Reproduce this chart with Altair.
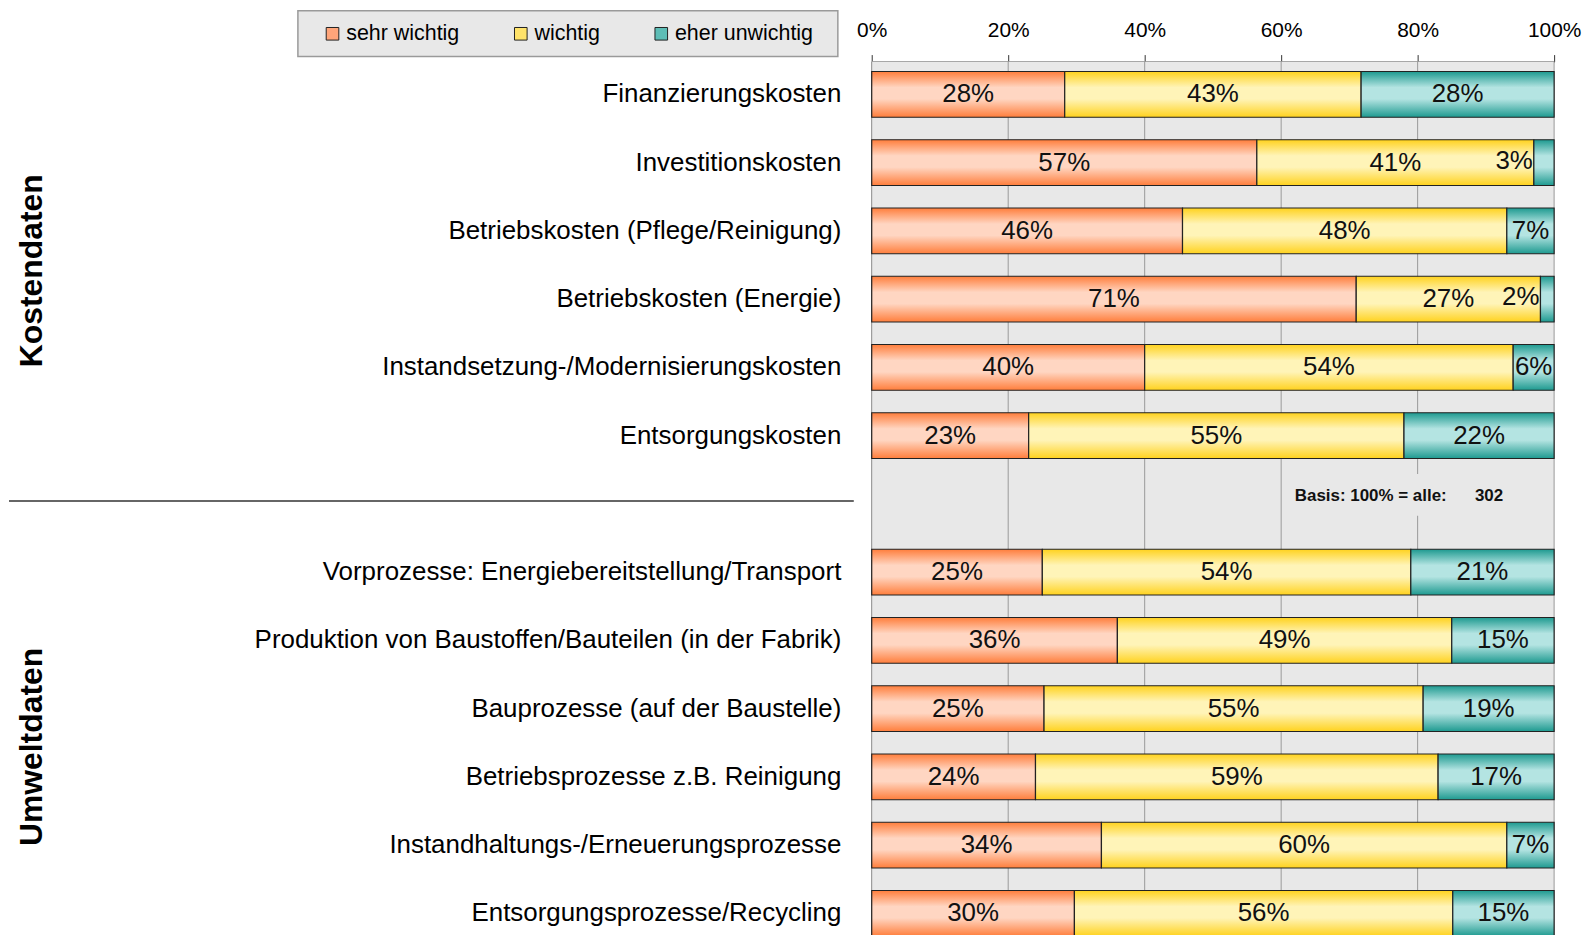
import altair as alt
import pandas as pd

# ---------------- data ----------------
categories = [
    "Finanzierungskosten",
    "Investitionskosten",
    "Betriebskosten (Pflege/Reinigung)",
    "Betriebskosten (Energie)",
    "Instandsetzung-/Modernisierungskosten",
    "Entsorgungskosten",
    "Vorprozesse: Energiebereitstellung/Transport",
    "Produktion von Baustoffen/Bauteilen (in der Fabrik)",
    "Bauprozesse (auf der Baustelle)",
    "Betriebsprozesse z.B. Reinigung",
    "Instandhaltungs-/Erneuerungsprozesse",
    "Entsorgungsprozesse/Recycling",
]
gap_label = " "
levels = ["sehr wichtig", "wichtig", "eher unwichtig"]
sehr_wichtig = [28, 57, 46, 71, 40, 23, 25, 36, 25, 24, 34, 30]
wichtig = [43, 41, 48, 27, 54, 55, 54, 49, 55, 59, 60, 56]
eher_unwichtig = [28, 3, 7, 2, 6, 22, 21, 15, 19, 17, 7, 15]
x_ticks = [0, 0.2, 0.4, 0.6, 0.8, 1.0]
group_labels = ["Kostendaten", "Umweltdaten"]
basis_text = "Basis: 100% = alle:\u00a0\u00a0\u00a0\u00a0\u00a0\u00a0302"

FONT = "Liberation Sans"

rows = []
for i, c in enumerate(categories):
    for k, (lv, vals) in enumerate(zip(levels, [sehr_wichtig, wichtig, eher_unwichtig])):
        rows.append({"cat": c, "level": lv, "order": k, "value": vals[i]})
df = pd.DataFrame(rows)

y_domain = categories[:6] + [gap_label] + categories[6:]

dark = ["#FF7E3C", "#FFD21E", "#1E9A90"]
light = ["#FFD6C2", "#FFF4B8", "#B4E4E2"]
solid = ["#FFA57A", "#FFE36A", "#5DBDB6"]


def grad(d, l):
    return alt.LinearGradient(
        gradient="linear",
        x1=0, x2=0, y1=0, y2=1,
        stops=[
            alt.GradientStop(color=d, offset=0),
            alt.GradientStop(color=l, offset=0.35),
            alt.GradientStop(color=l, offset=0.6),
            alt.GradientStop(color=d, offset=1),
        ],
    )


xscale = alt.Scale(domain=[0, 1], nice=False, zero=True)
xaxis = alt.Axis(
    orient="top", values=x_ticks, format=".0%", title=None,
    labelFontSize=21, labelFont=FONT, labelColor="black", labelFlush=False,
    grid=False,
    domainColor="#333333", domainWidth=1.5,
    tickColor="#333333", tickSize=7, labelPadding=14,
)
yscale = alt.Scale(domain=y_domain, paddingInner=0.33, paddingOuter=0.146)
yaxis = alt.Axis(
    title=None, labelFontSize=26, labelFont=FONT, labelColor="black",
    labelPadding=31, labelLimit=800, ticks=False,
    domainColor="#333333", domainWidth=1.5, grid=False,
)
Y = alt.Y("cat:N", scale=yscale, axis=yaxis, sort=y_domain)

base = alt.Chart(df).transform_stack(
    stack="value", groupby=["cat"], as_=["x0", "x1"], offset="normalize",
    sort=[alt.SortField("order", order="ascending")],
)

one = pd.DataFrame({"a": [0]})
layers = []

# plot-area background
bg = alt.Chart(one).mark_rect(fill="#e8e8e8").encode(
    x=alt.value(0), x2=alt.value("width"), y=alt.value(0), y2=alt.value("height")
)
layers.append(bg)

# vertical grid lines at the tick positions
grid = alt.Chart(pd.DataFrame({"t": x_ticks})).mark_rule(color="#9a9a9a", strokeWidth=1).encode(
    x=alt.X("t:Q", scale=xscale, axis=xaxis), y=alt.value(0), y2=alt.value("height")
)
layers.append(grid)

# legend frame
frame = alt.Chart(one).mark_rect(
    fill="#e8e8e8", stroke="#9a9a9a", strokeWidth=1.5
).encode(x=alt.value(-576), x2=alt.value(-34), y=alt.value(-51), y2=alt.value(-5))
layers.append(frame)

# Basis note background patch (hides the grid line behind the note)
basis_bg = alt.Chart(one).mark_rect(fill="#e8e8e8").encode(
    x=alt.datum(0.615), x2=alt.datum(0.93), y=alt.value(414), y2=alt.value(456)
)
layers.append(basis_bg)

for lv, d, l in zip(levels, dark, light):
    layers.append(
        base.transform_filter(alt.datum.level == lv)
        .mark_bar(color=grad(d, l), stroke="#222222", strokeWidth=1.2)
        .encode(x=alt.X("x0:Q", scale=xscale, axis=xaxis), x2="x1:Q", y=Y)
    )

labels_mid = (
    base.transform_calculate(mid="(datum.x0 + datum.x1) / 2", label="datum.value + '%'")
    .transform_filter("datum.value >= 5")
    .mark_text(fontSize=26, font=FONT, color="#111111", baseline="middle")
    .encode(x=alt.X("mid:Q", scale=xscale, axis=xaxis), y=Y, text="label:N")
)
labels_small = (
    base.transform_calculate(label="datum.value + '%'")
    .transform_filter("datum.value < 5")
    .mark_text(fontSize=26, font=FONT, color="#111111", baseline="middle", align="right", dx=-1, dy=-2)
    .encode(x=alt.X("x0:Q", scale=xscale, axis=xaxis), y=Y, text="label:N")
)
layers += [labels_mid, labels_small]

basis = alt.Chart(pd.DataFrame({"t": [basis_text]})).mark_text(
    fontSize=17, font=FONT, fontWeight="bold", color="#111111", align="left", baseline="middle"
).encode(x=alt.datum(0.62), y=alt.value(436), text="t:N")
layers.append(basis)

# group labels and separator
g1 = alt.Chart(pd.DataFrame({"t": [group_labels[0]]})).mark_text(
    fontSize=32, font=FONT, fontWeight="bold", color="black", angle=270, align="center", baseline="middle"
).encode(x=alt.value(-843), y=alt.value(210), text="t:N")
g2 = alt.Chart(pd.DataFrame({"t": [group_labels[1]]})).mark_text(
    fontSize=32, font=FONT, fontWeight="bold", color="black", angle=270, align="center", baseline="middle"
).encode(x=alt.value(-843), y=alt.value(688), text="t:N")
sep = alt.Chart(one).mark_rule(color="#333333", strokeWidth=1.5).encode(
    x=alt.value(-866), x2=alt.value(-18), y=alt.value(441)
)
layers += [g1, g2, sep]

# legend carrier
leg = alt.Chart(pd.DataFrame({"level": levels})).mark_square(size=0, opacity=0).encode(
    color=alt.Color(
        "level:N",
        scale=alt.Scale(domain=levels, range=solid),
        legend=alt.Legend(
            orient="none", legendX=-552, legendY=-39, direction="horizontal", title=None,
            symbolType="square", symbolSize=160, symbolStrokeColor="#222222", symbolStrokeWidth=1,
            symbolOpacity=1, labelFontSize=21.5, labelFont=FONT, labelColor="black",
            columnPadding=50, labelOffset=3, padding=0,
        ),
    )
)
layers.append(leg)

chart = (
    alt.layer(*layers)
    .properties(width=685, height=888, padding={"left": 0, "top": 0, "right": 5, "bottom": -14})
    .configure(font=FONT)
    .configure_view(strokeWidth=0)
)

chart.save("out.html", embed_options={"renderer": "svg", "actions": False})
